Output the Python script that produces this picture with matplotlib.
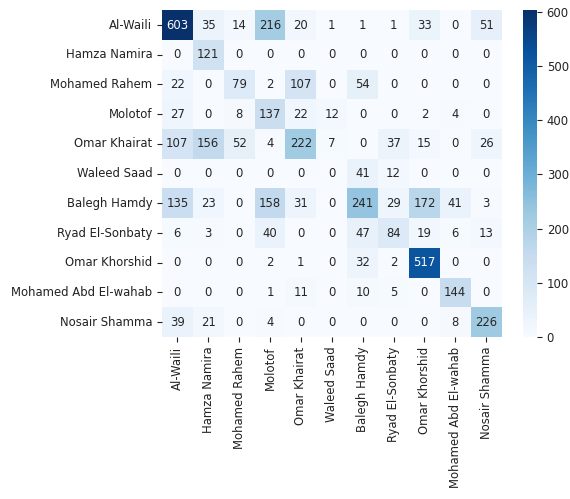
import numpy as np
import matplotlib
matplotlib.use("Agg")
import matplotlib.pyplot as plt
import seaborn as sns

labels = ["Al-Waili", "Hamza Namira", "Mohamed Rahem", "Molotof", "Omar Khairat",
          "Waleed Saad", "Balegh Hamdy", "Ryad El-Sonbaty", "Omar Khorshid",
          "Mohamed Abd El-wahab", "Nosair Shamma"]

row_alwaili = [603, 35, 14, 216, 20, 1, 1, 1, 33, 0, 51]
row_hamza = [0, 121, 0, 0, 0, 0, 0, 0, 0, 0, 0]
row_rahem = [22, 0, 79, 2, 107, 0, 54, 0, 0, 0, 0]
row_molotof = [27, 0, 8, 137, 22, 12, 0, 0, 2, 4, 0]
row_khairat = [107, 156, 52, 4, 222, 7, 0, 37, 15, 0, 26]
row_waleed = [0, 0, 0, 0, 0, 0, 41, 12, 0, 0, 0]
row_balegh = [135, 23, 0, 158, 31, 0, 241, 29, 172, 41, 3]
row_ryad = [6, 3, 0, 40, 0, 0, 47, 84, 19, 6, 13]
row_khorshid = [0, 0, 0, 2, 1, 0, 32, 2, 517, 0, 0]
row_wahab = [0, 0, 0, 1, 11, 0, 10, 5, 0, 144, 0]
row_nosair = [39, 21, 0, 4, 0, 0, 0, 0, 0, 8, 226]

cm = np.array([row_alwaili, row_hamza, row_rahem, row_molotof, row_khairat,
               row_waleed, row_balegh, row_ryad, row_khorshid, row_wahab, row_nosair])

fig = plt.figure(figsize=(5.70, 4.99), dpi=100)
ax = fig.add_axes([0.284, 0.3246, 0.596, 0.655])
cax = fig.add_axes([0.918, 0.3246, 0.024, 0.655])

fs = 8.4
sns.heatmap(cm, annot=True, fmt="d", cmap="Blues", ax=ax, cbar_ax=cax,
            xticklabels=labels, yticklabels=labels, annot_kws={"size": fs})
ax.tick_params(axis="both", labelsize=fs, colors="#222222", labelcolor="#222222")
ax.set_xticklabels(labels, rotation=90)
ax.set_yticklabels(labels, rotation=0)
cax.tick_params(labelsize=fs, colors="#222222", labelcolor="#222222")
cax.set_yticks([0, 100, 200, 300, 400, 500, 600])

fig.savefig("out.png", dpi=100)
